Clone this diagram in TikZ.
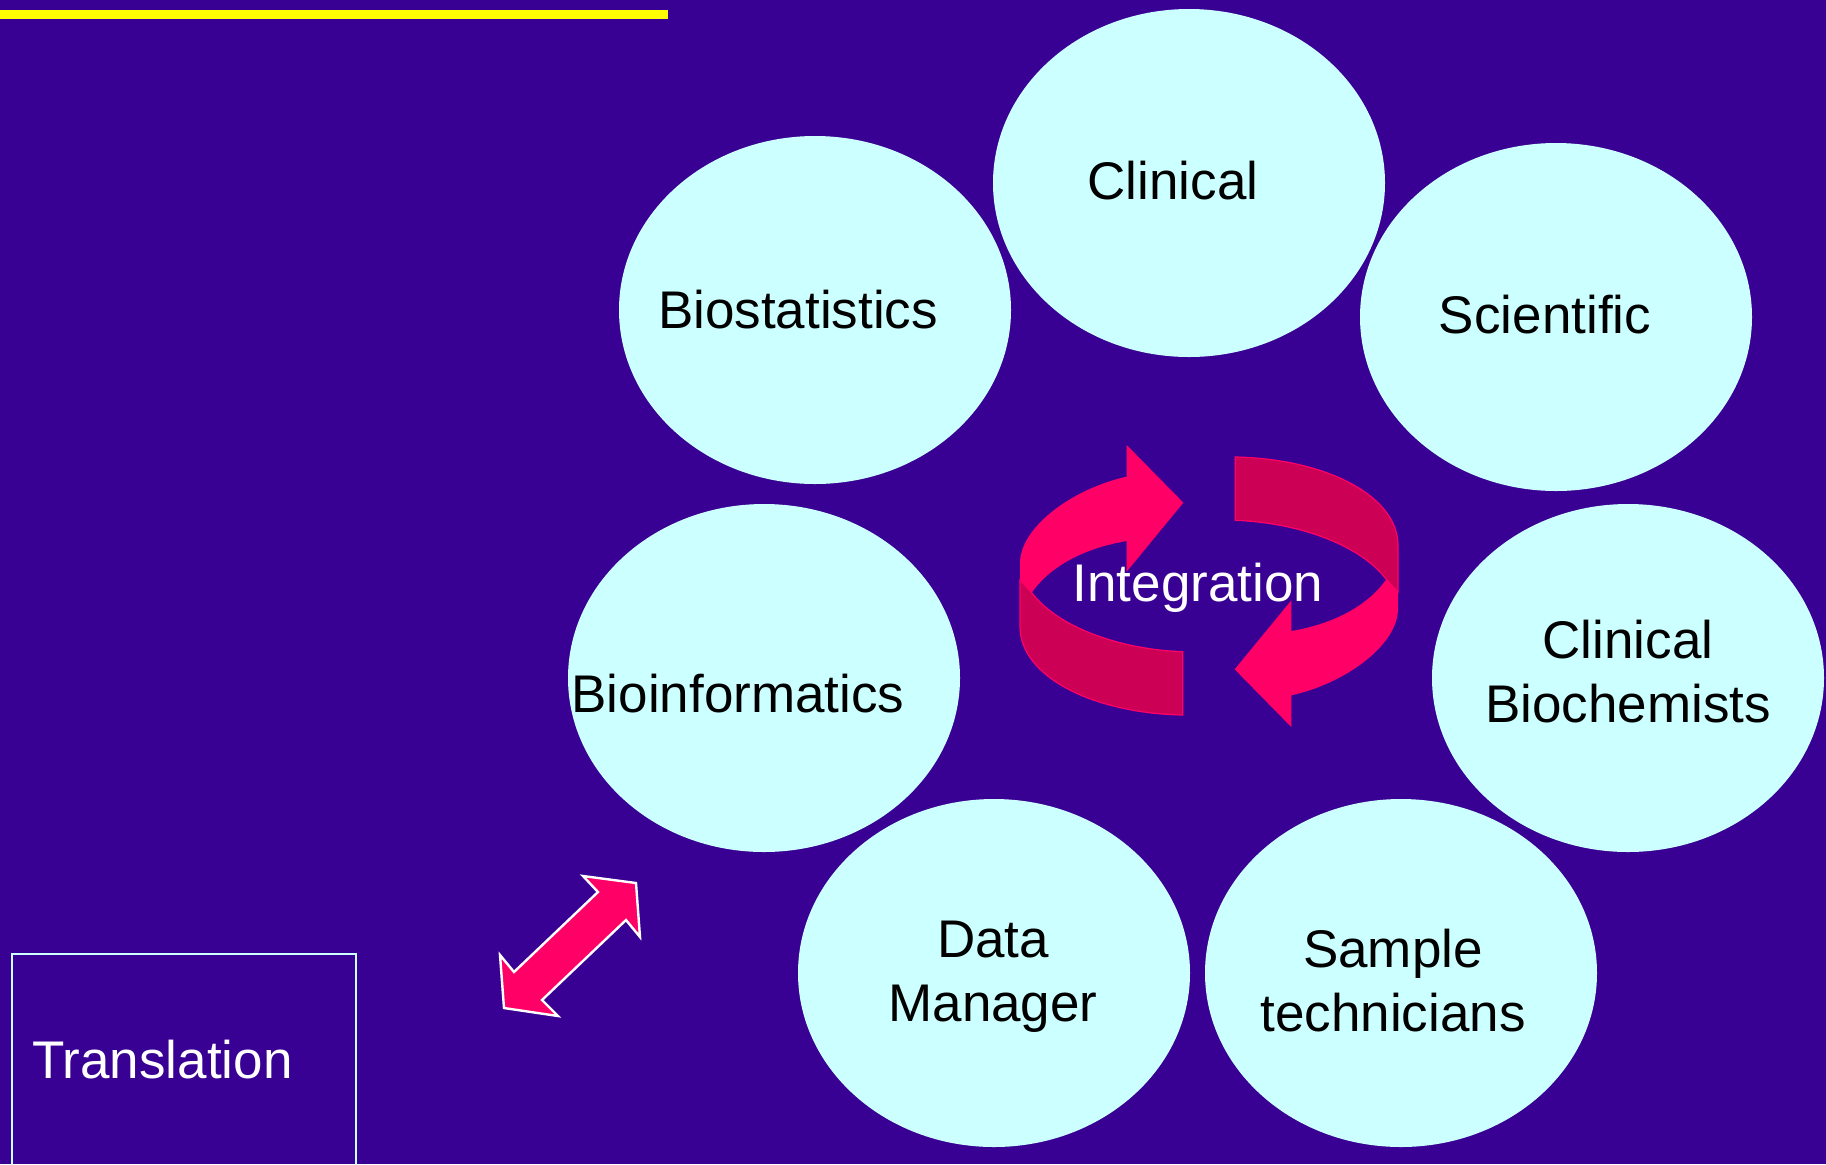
\documentclass[tikz,border=0pt]{standalone}
\usepackage{fontspec}
\setmainfont{Liberation Sans}
\usetikzlibrary{shapes.geometric}

\definecolor{slide}{HTML}{390094}
\definecolor{bubble}{HTML}{CCFFFF}
\definecolor{hotpink}{HTML}{FF0066}
\definecolor{deeppink}{HTML}{CC0055}
\definecolor{titleyellow}{HTML}{FFFF00}

% one half of the turning ribbon: back band, then the arrow on top
\newcommand{\loophalf}{%
  \filldraw[fill=deeppink,draw=hotpink,line width=0.6pt]
    (60,450) -- (95,488) .. controls (180,600) and (380,660) .. (548,665)
    -- (548,855) .. controls (280,850) and (60,740) .. (60,590) -- cycle;
  \fill[hotpink]
    (60,450) -- (60,400) .. controls (60,290) and (220,175) .. (380,140)
    -- (380,45) -- (550,218) -- (380,425) -- (380,333)
    .. controls (250,355) and (150,410) .. (95,488) -- cycle;
}

\begin{document}
\begin{tikzpicture}[x=0.5pt,y=-0.5pt]
  \tikzstyle{blob}=[ellipse,fill=bubble,minimum width=196pt,minimum height=174pt,inner sep=0pt]
  \tikzstyle{word}=[font=\fontsize{26.5}{32}\selectfont,inner sep=0pt,align=center]
  \useasboundingbox (0,0) rectangle (1826,1164);
  \fill[slide] (0,0) rectangle (1826,1164);

  % title underline
  \fill[titleyellow] (0,10) rectangle (668,19);

  % the seven groups
  \node[blob] (clinical) at (1189,183) {};
  \node[blob] (biostat)  at (815,310)  {};
  \node[blob] (science)  at (1556,317) {};
  \node[blob] (biochem)  at (1628,678) {};
  \node[blob] (bioinf)   at (764,678)  {};
  \node[blob] (datamgr)  at (994,973)  {};
  \node[blob] (samples)  at (1401,973) {};

  \node[word,anchor=base] (clinicaltxt) at (1173,199) {Clinical};
  \node[word,anchor=base] (biostattxt)  at (798,328)  {Biostatistics};
  \node[word,anchor=base] (sciencetxt)  at (1545,333) {Scientific};
  \node[word]             (biochemtxt)  at (1628,672) {Clinical\\Biochemists};
  \node[word,anchor=base] (bioinftxt)   at (738,712)  {Bioinformatics};
  \node[word]             (datamgrtxt)  at (993,977)  {Data\\Manager};
  \node[word]             (samplestxt)  at (1393,981) {Sample\\technicians};

  % integration loop
  \begin{scope}[shift={(1000,430)},scale=1/3]
    \loophalf
  \end{scope}
  \begin{scope}[shift={(1000,430)},scale=1/3,rotate around={180:(627,468)}]
    \loophalf
  \end{scope}
  \node[word,text=white,anchor=base] (integration) at (1198,601) {Integration};

  % translation box and its link
  \draw[bubble,line width=1pt] (12,954) rectangle (356,1180);
  \node[word,text=white,anchor=base west] (translation) at (32,1078) {Translation};
  \filldraw[fill=hotpink,draw=white,line width=1.2pt,line join=miter]
    (636,883) -- (640,937) -- (626,920) -- (542,1000) -- (558,1016)
    -- (504,1008) -- (500,955) -- (514,972) -- (598,892) -- (583,876) -- cycle;
\end{tikzpicture}
\end{document}
